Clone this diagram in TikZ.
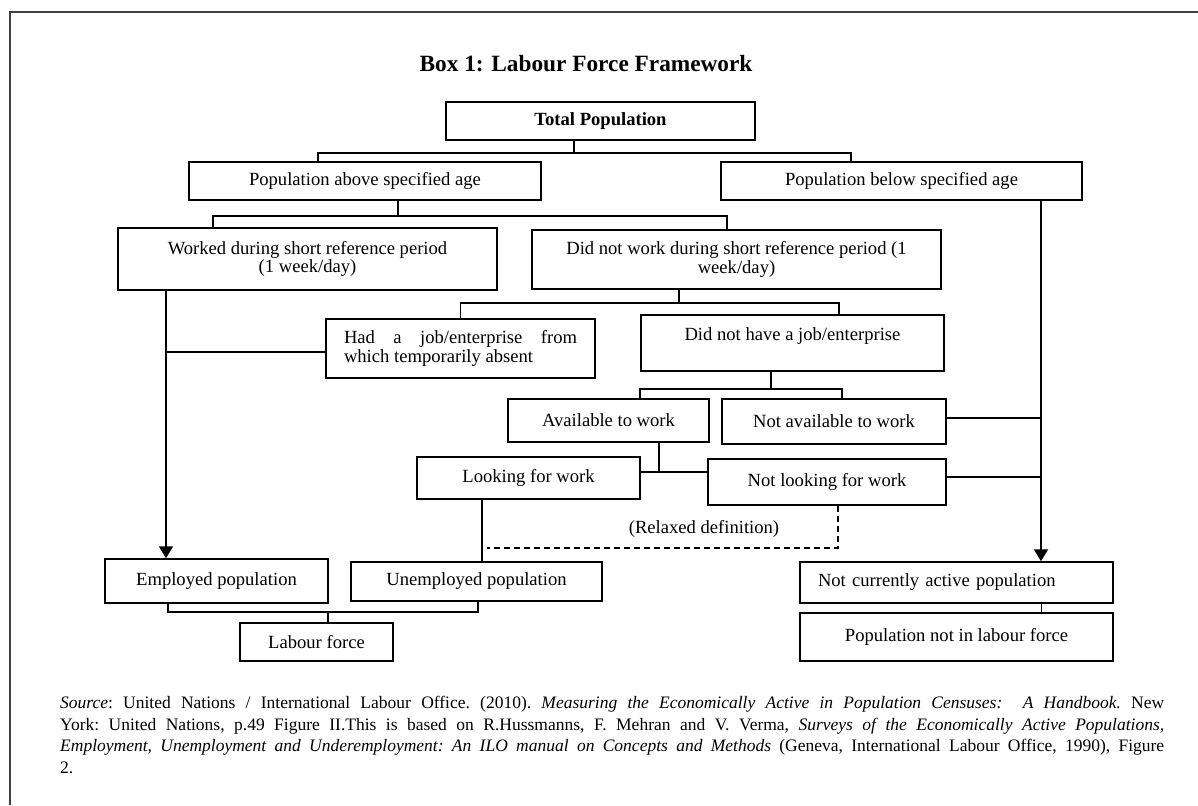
\documentclass[tikz,border=0pt]{standalone}
\usepackage{fontspec}
\setmainfont{Liberation Serif}
\usetikzlibrary{arrows.meta,calc}

\begin{document}
\begin{tikzpicture}[
  x=1pt, y=-1pt,
  >={Triangle[length=12pt,width=14pt]},
  box/.style={draw, line width=1.5pt, inner sep=0pt, align=center,
    font=\fontsize{18.6}{18.6}\selectfont},
  conn/.style={line width=1.8pt},
  relax/.style={line width=1.2pt, dash pattern=on 6pt off 4pt},
]
\useasboundingbox (0,0) rectangle (1198,805);

% Frame
\draw[line width=1.6pt, black!75] (1198,12) -- (10,12) -- (10,805);

% Title
\node[anchor=base, font=\fontsize{23.3}{28}\selectfont\bfseries] (title) at (586,72) {Box 1: Labour Force Framework};

% Boxes
\node[box, minimum width=309pt, minimum height=38pt] (total) at (600.5,121) {\bfseries Total Population};
\node[box, minimum width=352pt, minimum height=38pt] (above) at (365,181) {Population above specified age};
\node[box, minimum width=361pt, minimum height=38pt] (below) at (901.5,181) {Population below specified age};
\node[box, minimum width=379pt, minimum height=62pt] (worked) at (307.5,259) {Worked during short reference period\\(1 week/day)};
\node[box, minimum width=409pt, minimum height=59pt] (notwork) at (736.5,259.5) {Did not work during short reference period (1\\week/day)};
\node[box, minimum width=269pt, minimum height=59pt, align=left] (hadjob) at (460.5,348.5) {\makebox[233pt][s]{Had a job/enterprise from}\\which temporarily absent};
\node[box, minimum width=303pt, minimum height=56pt] (nojob) at (792.5,343) {Did not have a job/enterprise\\\mbox{}};
\node[box, minimum width=201pt, minimum height=43pt] (avail) at (608.5,420.5) {Available to work};
\node[box, minimum width=224pt, minimum height=45pt] (notavail) at (834,421.5) {Not available to work};
\node[box, minimum width=223pt, minimum height=42pt] (looking) at (528.5,478) {Looking for work};
\node[box, minimum width=238pt, minimum height=46pt] (notlooking) at (827,482) {Not looking for work};
\node[box, minimum width=223pt, minimum height=44pt] (employed) at (216.5,581) {Employed population};
\node[box, minimum width=251pt, minimum height=39pt] (unemployed) at (476.5,581.5) {Unemployed population};
\node[box, minimum width=153pt, minimum height=38pt] (labour) at (316.5,642) {Labour force};
\node[box, minimum width=313pt, minimum height=41pt, text width=277pt, align=left] (inactive) at (956.5,582.5) {Not currently active population};
\node[box, minimum width=313pt, minimum height=48pt] (notlf) at (956.5,637) {Population not in labour force};

% Total -> age groups
\draw[conn] ([xshift=-26.5pt]total.south) -- ++(0,12) coordinate (t1);
\draw[conn] ([xshift=-47pt]above.north) |- (t1) -| ([xshift=-50.5pt]below.north);

% Above age -> worked / did not work
\draw[conn] ([xshift=33pt]above.south) -- ++(0,15) coordinate (a1);
\draw[conn] ([xshift=-94.5pt]worked.north) |- (a1) -| ([xshift=-9.5pt]notwork.north);

% Below age -> not currently active
\draw[conn,->] ([xshift=139.5pt]below.south) coordinate (rv) -- (rv |- inactive.north);
\draw[conn] ([yshift=3.5pt]notavail.east) -| (rv);
\draw[conn] ([yshift=5pt]notlooking.east) -| (rv);

% Worked -> employed
\draw[conn,->] ([xshift=-141.5pt]worked.south) coordinate (lv) -- (lv |- employed.north);
\draw[conn] ([yshift=-3.5pt]hadjob.west) -| (lv);

% Did not work -> job / no job
\draw[conn] ([xshift=-57.5pt]notwork.south) -- ++(0,13) coordinate (n1);
\draw[conn] (hadjob.north) |- (n1) -| ([xshift=46.5pt]nojob.north);

% No job -> available / not available
\draw[conn] ([xshift=-21.5pt]nojob.south) -- ++(0,17) coordinate (j1);
\draw[conn] ([xshift=31.5pt]avail.north) |- (j1) -| ([xshift=8pt]notavail.north);

% Available -> looking / not looking
\draw[conn] ([xshift=50.5pt]avail.south) -- ++(0,30);
\draw[conn] ([yshift=6pt]looking.east) -- ([yshift=10pt]notlooking.west);
\draw[conn] ([xshift=-46.5pt]looking.south) -- ([xshift=5.5pt]unemployed.north);

% Relaxed definition
\coordinate (relaxend) at (487,548);
\draw[relax] ([xshift=11pt]notlooking.south) |- (relaxend);
\node[font=\fontsize{18.6}{18.6}\selectfont] (relaxed) at (704,529) {(Relaxed definition)};

% Labour force
\draw[conn] ([xshift=11.5pt]labour.north) -- ++(0,-10) coordinate (l1);
\draw[conn] ([xshift=-48.5pt]employed.south) |- (l1) -| ([xshift=1.5pt]unemployed.south);
\draw[conn] ([xshift=85pt]inactive.south) -- ([xshift=85pt]notlf.north);

% Source
\node[anchor=north west, inner sep=0pt, text width=1104pt, align=justify,
  font=\fontsize{17.5}{21.5}\selectfont] (source) at (60,696)
  {\frenchspacing\tolerance=10000 \textit{Source}: United Nations / International Labour Office. (2010). \textit{Measuring the Economically Active in Population Censuses:\ \ A Handbook.} New\linebreak
  York: United Nations, p.49 Figure II.This is based on R.Hussmanns, F. Mehran and V. Verma, \textit{Surveys of the Economically Active Populations,\linebreak
  Employment, Unemployment and Underemployment: An ILO manual on Concepts and Methods} (Geneva, International Labour Office, 1990), Figure\linebreak
  2.};
\end{tikzpicture}
\end{document}
